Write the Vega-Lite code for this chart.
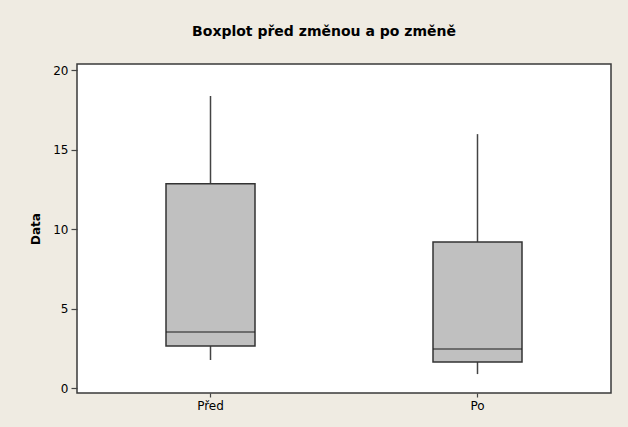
{
  "$schema": "https://vega.github.io/schema/vega-lite/v6.json",
  "width": 534,
  "height": 329,
  "autosize": {"type": "none"},
  "padding": {"left": 77, "top": 64, "right": 17, "bottom": 34},
  "background": "#EFEBE2",
  "title": {
    "text": "Boxplot před změnou a po změně",
    "font": "DejaVu Sans",
    "fontSize": 14,
    "fontWeight": "bold",
    "color": "black",
    "baseline": "alphabetic",
    "offset": 14,
    "dx": -20
  },
  "data": {
    "values": [
      {"skupina": "Před", "min": 1.76, "q1": 2.64, "median": 3.52, "q3": 12.85, "max": 18.36},
      {"skupina": "Po", "min": 0.88, "q1": 1.64, "median": 2.45, "q3": 9.18, "max": 15.97}
    ]
  },
  "encoding": {
    "x": {
      "field": "skupina",
      "type": "nominal",
      "sort": ["Před", "Po"],
      "scale": {"paddingInner": 0, "paddingOuter": 0},
      "axis": {"title": null, "labelAngle": 0, "tickSize": 4, "labelPadding": 3}
    }
  },
  "layer": [
    {
      "mark": {"type": "rule", "color": "#444444", "strokeWidth": 1.5},
      "encoding": {
        "y": {
          "field": "min",
          "type": "quantitative",
          "scale": {"domain": [-0.31, 20.38], "nice": false, "zero": false},
          "axis": {"title": "Data", "values": [0, 5, 10, 15, 20], "tickSize": 6, "labelPadding": 3, "titlePadding": 10}
        },
        "y2": {"field": "max"}
      }
    },
    {
      "mark": {"type": "bar", "size": 89, "fill": "#C0C0C0", "stroke": "#333333", "strokeWidth": 1.5},
      "encoding": {
        "y": {"field": "q1", "type": "quantitative"},
        "y2": {"field": "q3"}
      }
    },
    {
      "mark": {"type": "tick", "size": 89, "thickness": 1.5, "color": "#222222", "orient": "horizontal"},
      "encoding": {
        "y": {"field": "median", "type": "quantitative"}
      }
    }
  ],
  "config": {
    "view": {"fill": "white", "stroke": "#3a3a3a", "strokeWidth": 1.5},
    "axis": {
      "grid": false,
      "domain": false,
      "tickColor": "#444444",
      "tickWidth": 1.2,
      "labelFont": "DejaVu Sans",
      "labelFontSize": 12,
      "labelColor": "black",
      "titleFont": "DejaVu Sans",
      "titleFontSize": 12,
      "titleFontWeight": "bold",
      "titleColor": "black"
    }
  }
}
